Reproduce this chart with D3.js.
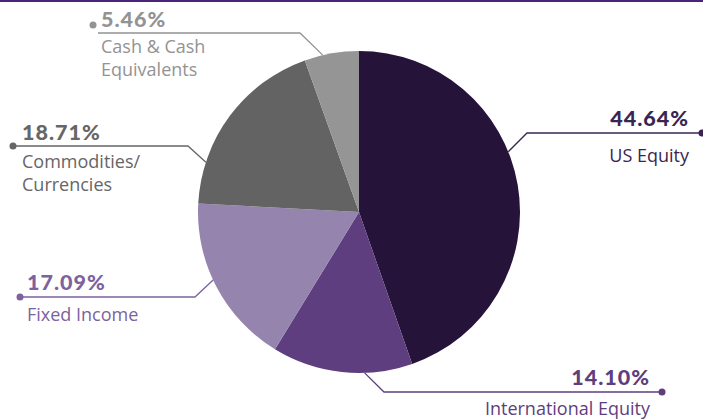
<!DOCTYPE html>
<html>
<head>
<meta charset="utf-8">
<script src="https://cdn.jsdelivr.net/npm/d3@7"></script>
<style>
  body { margin: 0; background: #fff; }
  svg { display: block; font-family: Lato, "Open Sans", sans-serif; }
</style>
</head>
<body>
<div id="root"></div>
<script>
// Allocation data (clockwise from 12 o'clock)
const categories = ["US Equity", "International Equity", "Fixed Income", "Commodities/Currencies", "Cash & Cash Equivalents"];
const values = [44.64, 14.10, 17.09, 18.71, 5.46];
const pctLabels = ["44.64%", "14.10%", "17.09%", "18.71%", "5.46%"];
const nameLines = [["US Equity"], ["International Equity"], ["Fixed Income"], ["Commodities/", "Currencies"], ["Cash & Cash", "Equivalents"]];

const sliceColors = ["#26133a", "#5e3e7e", "#9584ae", "#636363", "#959595"];
const textColors = ["#3a2552", "#5e3e7e", "#7d62a0", "#666666", "#939393"];

// leader layout: dot position, elbow x, edge angle (deg clockwise from top), text anchor
const leaders = [
  { dot: [702, 133], elbowX: 527, edge: 68, anchor: "end", tx: 689, pctY: 126, nameY: 162 },
  { dot: [662, 392], elbowX: 384, edge: 178, anchor: "end", tx: 650, pctY: 385, nameY: 415 },
  { dot: [20, 297], elbowX: 195, edge: 245, anchor: "start", tx: 27, pctY: 290, nameY: 321 },
  { dot: [13, 146], elbowX: 188, edge: 288, anchor: "start", tx: 22, pctY: 140, nameY: 168 },
  { dot: [93, 25], elbowX: 300, edge: 347, anchor: "start", tx: 101, pctY: 27, nameY: 53, lineY: 33, lineX0: 98 }
];

const width = 703, height = 420;
const cx = 359, cy = 212, radius = 161;

const svg = d3.select("#root").append("svg")
  .attr("width", width)
  .attr("height", height);

// top border
svg.append("rect")
  .attr("x", 0).attr("y", 0)
  .attr("width", width).attr("height", 2)
  .attr("fill", "#4b2379");

const pie = d3.pie().sort(null).value(d => d);
const arc = d3.arc().innerRadius(0).outerRadius(radius);
const arcs = pie(values);

const g = svg.append("g").attr("transform", `translate(${cx},${cy})`);

g.selectAll("path")
  .data(arcs)
  .join("path")
  .attr("d", arc)
  .attr("fill", (d, i) => sliceColors[i]);

// leader lines + labels
leaders.forEach(function (l, i) {
  const a = l.edge * Math.PI / 180;
  const ex = cx + radius * Math.sin(a);
  const ey = cy - radius * Math.cos(a);
  const ly = l.lineY || l.dot[1];
  const x0 = l.lineX0 || l.dot[0];
  const pts = [[x0, ly], [l.elbowX, ly], [ex, ey]];

  svg.append("path")
    .attr("d", d3.line()(pts))
    .attr("fill", "none")
    .attr("stroke", textColors[i])
    .attr("stroke-width", 1.3);

  svg.append("circle")
    .attr("cx", l.dot[0]).attr("cy", l.dot[1])
    .attr("r", 3.5)
    .attr("fill", textColors[i]);

  svg.append("text")
    .attr("x", l.tx).attr("y", l.pctY)
    .attr("text-anchor", l.anchor)
    .attr("fill", textColors[i])
    .attr("font-weight", 900)
    .attr("font-size", 21.5)
    .attr("letter-spacing", 1)
    .text(pctLabels[i]);

  nameLines[i].forEach(function (s, j) {
    svg.append("text")
      .attr("x", l.tx).attr("y", l.nameY + j * 23)
      .attr("text-anchor", l.anchor)
      .attr("fill", textColors[i])
      .attr("font-family", "'Open Sans', sans-serif")
      .attr("font-size", 18)
      .text(s);
  });
});
</script>
</body>
</html>
